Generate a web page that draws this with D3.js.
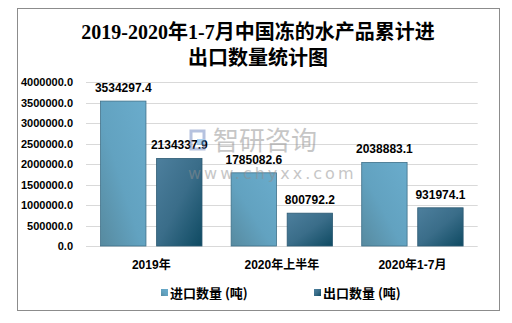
<!DOCTYPE html>
<html><head><meta charset="utf-8">
<script src="https://cdn.jsdelivr.net/npm/d3@7"></script>
<style>body{margin:0;background:#fff;}svg{display:block;}</style>
</head><body>
<script>
const categories = ["2019年", "2020年上半年", "2020年1-7月"];
const seriesNames = ["进口数量 (吨)", "出口数量 (吨)"];
const importValues = [3534297.4, 1785082.6, 2038883.1];
const exportValues = [2134337.9, 800792.2, 931974.1];
const yTicks = [0, 500000, 1000000, 1500000, 2000000, 2500000, 3000000, 3500000, 4000000];
const titleLines = ["2019-2020年1-7月中国冻的水产品累计进", "出口数量统计图"];

const W = 512, H = 323;
const svg = d3.select("body").append("svg").attr("width", W).attr("height", H);
const defs = svg.append("defs");
const g1 = defs.append("linearGradient").attr("id","gImp").attr("x1","1").attr("y1","0").attr("x2","0").attr("y2","1");
g1.append("stop").attr("offset","0").attr("stop-color","#6aaccc");
g1.append("stop").attr("offset","0.55").attr("stop-color","#62a2c0");
g1.append("stop").attr("offset","1").attr("stop-color","#578a9f");
const g2 = defs.append("linearGradient").attr("id","gExp").attr("x1","0").attr("y1","0").attr("x2","1").attr("y2","1");
g2.append("stop").attr("offset","0").attr("stop-color","#4d7f9d");
g2.append("stop").attr("offset","0.5").attr("stop-color","#3a6d89");
g2.append("stop").attr("offset","1").attr("stop-color","#0e4a62");

svg.append("rect").attr("x",17.5).attr("y",8.5).attr("width",482).attr("height",302)
  .attr("fill","#fff").attr("stroke","#8c8c8c").attr("stroke-width",1);

const title = svg.append("text").attr("text-anchor","middle")
  .attr("font-family","'Liberation Serif','Noto Sans CJK SC',serif").attr("font-weight","bold")
  .attr("font-size",20).attr("fill","#000");
titleLines.forEach((t,i)=>title.append("tspan").attr("x",258).attr("y",39+i*26).text(t));

const x0 = d3.scaleBand().domain(categories).range([86, 477.7]);
const x1 = d3.scaleBand().domain([0,1]).range([0, x0.bandwidth()]).paddingInner(0.19).paddingOuter(0.26);
const y = d3.scaleLinear().domain([0, 4000000]).range([246, 82]);

const grid = svg.append("g");
grid.selectAll("line").data(yTicks).join("line")
  .attr("x1",86).attr("x2",477.7).attr("y1",d=>Math.round(y(d))+0.5).attr("y2",d=>Math.round(y(d))+0.5)
  .attr("stroke","#d9d9d9").attr("stroke-width",1);

const yAxis = svg.append("g").attr("transform","translate(73,0)")
  .call(d3.axisLeft(y).tickValues(yTicks).tickSize(0).tickPadding(0).tickFormat(d=>d3.format(".1f")(d)));
yAxis.select(".domain").remove();
yAxis.selectAll("text").attr("font-family","'Liberation Sans',Arial,sans-serif").attr("font-weight","bold")
  .attr("font-size",11).attr("fill","#000").attr("dy","0.35em");

const data = categories.map((c,i)=>({c, vals:[importValues[i], exportValues[i]]}));
const groups = svg.append("g").selectAll("g").data(data).join("g")
  .attr("transform",d=>`translate(${x0(d.c)},0)`);
groups.selectAll("rect").data(d=>d.vals.map((v,k)=>({v,k}))).join("rect")
  .attr("x",d=>x1(d.k)).attr("width",x1.bandwidth())
  .attr("y",d=>y(d.v)).attr("height",d=>y(0)-y(d.v))
  .attr("fill",d=>d.k===0?"url(#gImp)":"url(#gExp)")
  .attr("stroke",d=>d.k===0?"#3f7089":"#2c5a73").attr("stroke-width",0.8);

// watermark (over bars, semi-transparent)
const wm = svg.append("g").attr("opacity",0.5);
wm.append("rect").attr("x",191).attr("y",131).attr("width",13).attr("height",18).attr("fill","none").attr("stroke","#6f86c0").attr("stroke-width",3);
wm.append("rect").attr("x",197).attr("y",139).attr("width",8).attr("height",6).attr("fill","#5aa0e0");
wm.append("text").attr("x",213).attr("y",150).attr("font-family","'Noto Sans CJK SC',sans-serif").attr("font-size",26).attr("fill","#8f8f8f").text("智研咨询");
wm.append("text").attr("x",188).attr("y",179).attr("font-family","'DejaVu Sans',sans-serif").attr("font-size",16).attr("letter-spacing",3).attr("fill","#8f8f8f").text("www.chyxx.com");

groups.selectAll("text").data(d=>d.vals.map((v,k)=>({v,k}))).join("text")
  .attr("x",d=>x1(d.k)+x1.bandwidth()/2).attr("y",d=>y(d.v)-9)
  .attr("text-anchor","middle").attr("font-family","'Liberation Sans',Arial,sans-serif")
  .attr("font-weight","bold").attr("font-size",12).attr("fill","#000")
  .text(d=>d3.format(".1f")(d.v));
groups.raise();
groups.selectAll("rect").lower();
wm.raise();
groups.selectAll("text").raise();

const xAxis = svg.append("g").attr("transform","translate(0,246)")
  .call(d3.axisBottom(x0).tickSize(0).tickPadding(0));
xAxis.select(".domain").remove();
xAxis.selectAll("text").attr("y",23).attr("dy",0).attr("font-family","'Liberation Sans','Noto Sans CJK SC',sans-serif")
  .attr("font-weight","bold").attr("font-size",12).attr("fill","#000");

const legX = [161, 314];
const leg = svg.append("g").selectAll("g").data(seriesNames).join("g")
  .attr("transform",(d,i)=>`translate(${legX[i]},293)`);
leg.append("rect").attr("x",0).attr("y",-4).attr("width",7).attr("height",7)
  .attr("fill",(d,i)=>i===0?"url(#gImp)":"url(#gExp)");
leg.append("text").attr("x",9).attr("y",5).attr("font-family","'Noto Sans CJK SC',sans-serif")
  .attr("font-weight","bold").attr("font-size",13).attr("fill","#000").text(d=>d);
</script>
</body></html>
